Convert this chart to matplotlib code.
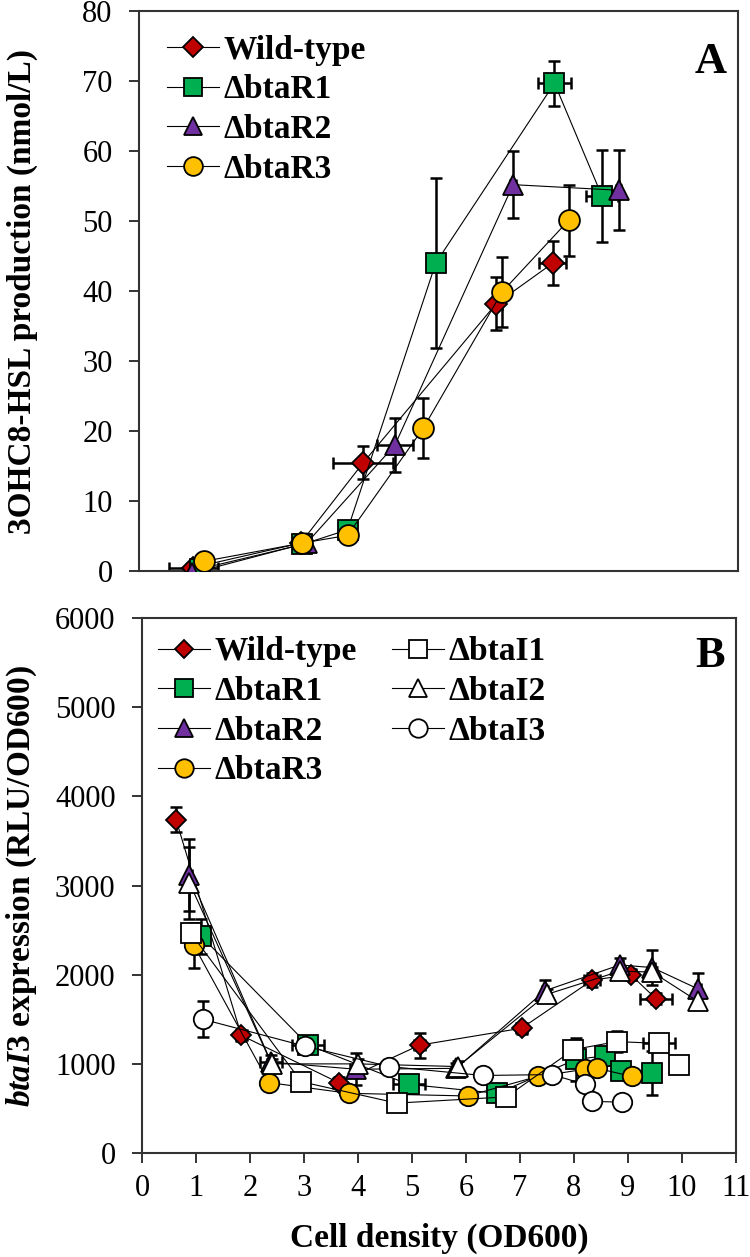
import matplotlib
matplotlib.use("Agg")
import matplotlib.pyplot as plt

plt.rcParams['font.family'] = ['Liberation Serif', 'DejaVu Serif']
plt.rcParams['mathtext.fontset'] = 'custom'
plt.rcParams['mathtext.it'] = 'Liberation Serif:italic:bold'
plt.rcParams['mathtext.rm'] = 'Liberation Serif:bold'

red = "#C00000"
green = "#00B050"
purple = "#7030A0"
yellow = "#FFC000"

# ---- panel A : 3OHC8-HSL production ----
a_wt_x = [1.0, 2.97, 4.12, 6.56, 7.6]
a_wt_y = [0.5, 4.0, 15.5, 38.2, 44.0]
a_wt_yerr = [0.5, 0.5, 2.3, 3.8, 3.1]
a_wt_xerr = [0.45, 0.1, 0.55, 0.1, 0.25]

a_r1_x = [1.12, 3.0, 3.83, 5.45, 7.63, 8.5]
a_r1_y = [0.3, 3.8, 5.9, 44.0, 69.7, 53.6]
a_r1_yerr = [0.5, 0.5, 0.8, 12.1, 3.2, 6.6]
a_r1_xerr = [0.1, 0.1, 0.1, 0.05, 0.3, 0.3]

a_r2_x = [0.98, 3.08, 4.7, 6.87, 8.81]
a_r2_y = [-0.3, 4.0, 18.0, 55.2, 54.4]
a_r2_yerr = [0.3, 0.5, 3.9, 4.8, 5.7]
a_r2_xerr = [0.05, 0.05, 0.33, 0.05, 0.05]

a_r3_x = [1.2, 3.0, 3.83, 5.22, 6.67, 7.89]
a_r3_y = [1.4, 4.0, 5.1, 20.4, 39.9, 50.1]
a_r3_yerr = [0.3, 0.3, 0.5, 4.3, 5.0, 5.1]
a_r3_xerr = [0.05, 0.05, 0.05, 0.05, 0.05, 0.05]

# ---- panel B : btaI3 expression ----
b_wt_x = [0.63, 1.84, 3.64, 5.14, 7.03, 8.34, 9.05, 9.52]
b_wt_y = [3740, 1320, 790, 1210, 1400, 1940, 2000, 1730]
b_wt_yerr = [140, 60, 60, 140, 60, 80, 60, 60]
b_wt_xerr = [0.05, 0.1, 0.1, 0.1, 0.1, 0.15, 0.1, 0.3]

b_r1_x = [1.1, 3.08, 4.94, 6.58, 8.04, 8.57, 8.88, 9.45]
b_r1_y = [2430, 1210, 770, 670, 1050, 1090, 920, 900]
b_r1_yerr = [200, 60, 100, 60, 240, 100, 60, 250]
b_r1_xerr = [0.05, 0.3, 0.3, 0.05, 0.05, 0.05, 0.05, 0.05]

b_r2_x = [0.88, 2.39, 3.96, 5.82, 7.46, 8.85, 9.45, 10.3]
b_r2_y = [3120, 1020, 940, 950, 1820, 2110, 2080, 1840]
b_r2_yerr = [400, 80, 180, 60, 120, 80, 200, 180]
b_r2_xerr = [0.05, 0.2, 0.1, 0.05, 0.05, 0.05, 0.05, 0.05]

b_r3_x = [0.96, 2.35, 3.83, 6.03, 7.33, 8.21, 8.43, 9.07]
b_r3_y = [2330, 790, 670, 640, 860, 940, 950, 860]
b_r3_yerr = [250, 60, 60, 60, 60, 60, 60, 60]
b_r3_xerr = [0.05, 0.05, 0.05, 0.05, 0.05, 0.05, 0.05, 0.05]

b_i1_x = [0.9, 2.95, 4.72, 6.75, 7.99, 8.79, 9.57, 9.94]
b_i1_y = [2470, 800, 560, 630, 1160, 1250, 1230, 990]
b_i1_yerr = [100, 60, 60, 60, 100, 120, 60, 60]
b_i1_xerr = [0.05, 0.05, 0.05, 0.05, 0.05, 0.05, 0.3, 0.05]

b_i2_x = [0.88, 2.4, 4.0, 5.85, 7.5, 8.85, 9.45, 10.3]
b_i2_y = [3030, 1000, 1000, 970, 1780, 2040, 2030, 1700]
b_i2_yerr = [400, 60, 60, 60, 60, 60, 60, 60]
b_i2_xerr = [0.05, 0.05, 0.05, 0.05, 0.05, 0.05, 0.05, 0.05]

b_i3_x = [1.13, 3.01, 4.58, 6.31, 7.59, 8.21, 8.33, 8.89]
b_i3_y = [1500, 1200, 970, 870, 880, 770, 580, 570]
b_i3_yerr = [200, 60, 60, 60, 60, 60, 60, 60]
b_i3_xerr = [0.05, 0.05, 0.05, 0.05, 0.05, 0.05, 0.05, 0.05]

labels_r = ["Wild-type", "\u0394btaR1", "\u0394btaR2", "\u0394btaR3"]
labels_i = ["\u0394btaI1", "\u0394btaI2", "\u0394btaI3"]


def series(ax, x, y, xerr, yerr, marker, color, ms, label):
    ax.errorbar(x, y, xerr=xerr, yerr=yerr, fmt="none", ecolor="black",
                elinewidth=1.8, capsize=4, capthick=1.8, zorder=2)
    ax.plot(x, y, color="black", linewidth=0.8, marker=marker, markersize=ms,
            markerfacecolor=color, markeredgecolor="black",
            markeredgewidth=1.3, label=label, zorder=3)


def style(ax):
    for s in ax.spines.values():
        s.set_color("#333333")
        s.set_linewidth(1.5)
    ax.tick_params(axis="y", direction="out", length=7, width=1.4,
                   labelsize=22, pad=12, color="#333333")
    ax.set_xlim(0, 11)


fig = plt.figure(figsize=(7.5, 12.57), dpi=100)
axA = fig.add_axes([0.1853, 0.5457, 0.7987, 0.4455])
axB = fig.add_axes([0.1893, 0.0827, 0.7920, 0.4256])

leg_font = {"size": 24, "weight": "bold"}

series(axA, a_wt_x, a_wt_y, a_wt_xerr, a_wt_yerr, "D", red, 11, labels_r[0])
series(axA, a_r1_x, a_r1_y, a_r1_xerr, a_r1_yerr, "s", green, 15, labels_r[1])
series(axA, a_r2_x, a_r2_y, a_r2_xerr, a_r2_yerr, "^", purple, 15, labels_r[2])
series(axA, a_r3_x, a_r3_y, a_r3_xerr, a_r3_yerr, "o", yellow, 15, labels_r[3])

style(axA)
axA.set_ylim(0, 80)
axA.set_yticks(range(0, 81, 10))
axA.set_xticks([])
axA.set_ylabel("3OHC8-HSL production (nmol/L)", fontsize=24, fontweight="bold",
               va="center")
axA.yaxis.set_label_coords(-0.195, 0.5)
axA.text(0.955, 0.909, "A", transform=axA.transAxes, fontsize=32,
         fontweight="bold", ha="center", va="center")
axA.legend(loc="upper left", frameon=False, prop=leg_font,
           handlelength=1.55, handletextpad=0.15, labelspacing=0.26,
           borderpad=0, borderaxespad=0, markerscale=0.9,
           bbox_to_anchor=(0.047, 0.958))

series(axB, b_wt_x, b_wt_y, b_wt_xerr, b_wt_yerr, "D", red, 10, labels_r[0])
series(axB, b_r1_x, b_r1_y, b_r1_xerr, b_r1_yerr, "s", green, 14, labels_r[1])
series(axB, b_r2_x, b_r2_y, b_r2_xerr, b_r2_yerr, "^", purple, 14, labels_r[2])
series(axB, b_r3_x, b_r3_y, b_r3_xerr, b_r3_yerr, "o", yellow, 14, labels_r[3])
series(axB, b_i1_x, b_i1_y, b_i1_xerr, b_i1_yerr, "s", "white", 14, labels_i[0])
series(axB, b_i2_x, b_i2_y, b_i2_xerr, b_i2_yerr, "^", "white", 14, labels_i[1])
series(axB, b_i3_x, b_i3_y, b_i3_xerr, b_i3_yerr, "o", "white", 14, labels_i[2])

style(axB)
axB.set_ylim(0, 6000)
axB.set_yticks(range(0, 6001, 1000))
axB.set_xticks(range(0, 12))
axB.tick_params(axis="x", direction="out", length=7, width=1.4,
                labelsize=22, pad=8, color="#333333")
axB.set_ylabel(r"$\mathit{btaI3}$ expression (RLU/OD600)", fontsize=24,
               fontweight="bold", va="center")
axB.yaxis.set_label_coords(-0.202, 0.5)
axB.set_xlabel("Cell density (OD600)", fontsize=24, fontweight="bold")
axB.xaxis.set_label_coords(0.5, -0.159)
axB.xaxis.label.set_va("center")
axB.text(0.956, 0.929, "B", transform=axB.transAxes, fontsize=32,
         fontweight="bold", ha="center", va="center")
axB.legend(loc="upper left", ncol=2, frameon=False, prop=leg_font,
           handlelength=1.55, handletextpad=0.15, labelspacing=0.26,
           columnspacing=1.05, borderpad=0, borderaxespad=0,
           markerscale=0.95, bbox_to_anchor=(0.027, 0.966))

fig.savefig("out.png", dpi=100)
